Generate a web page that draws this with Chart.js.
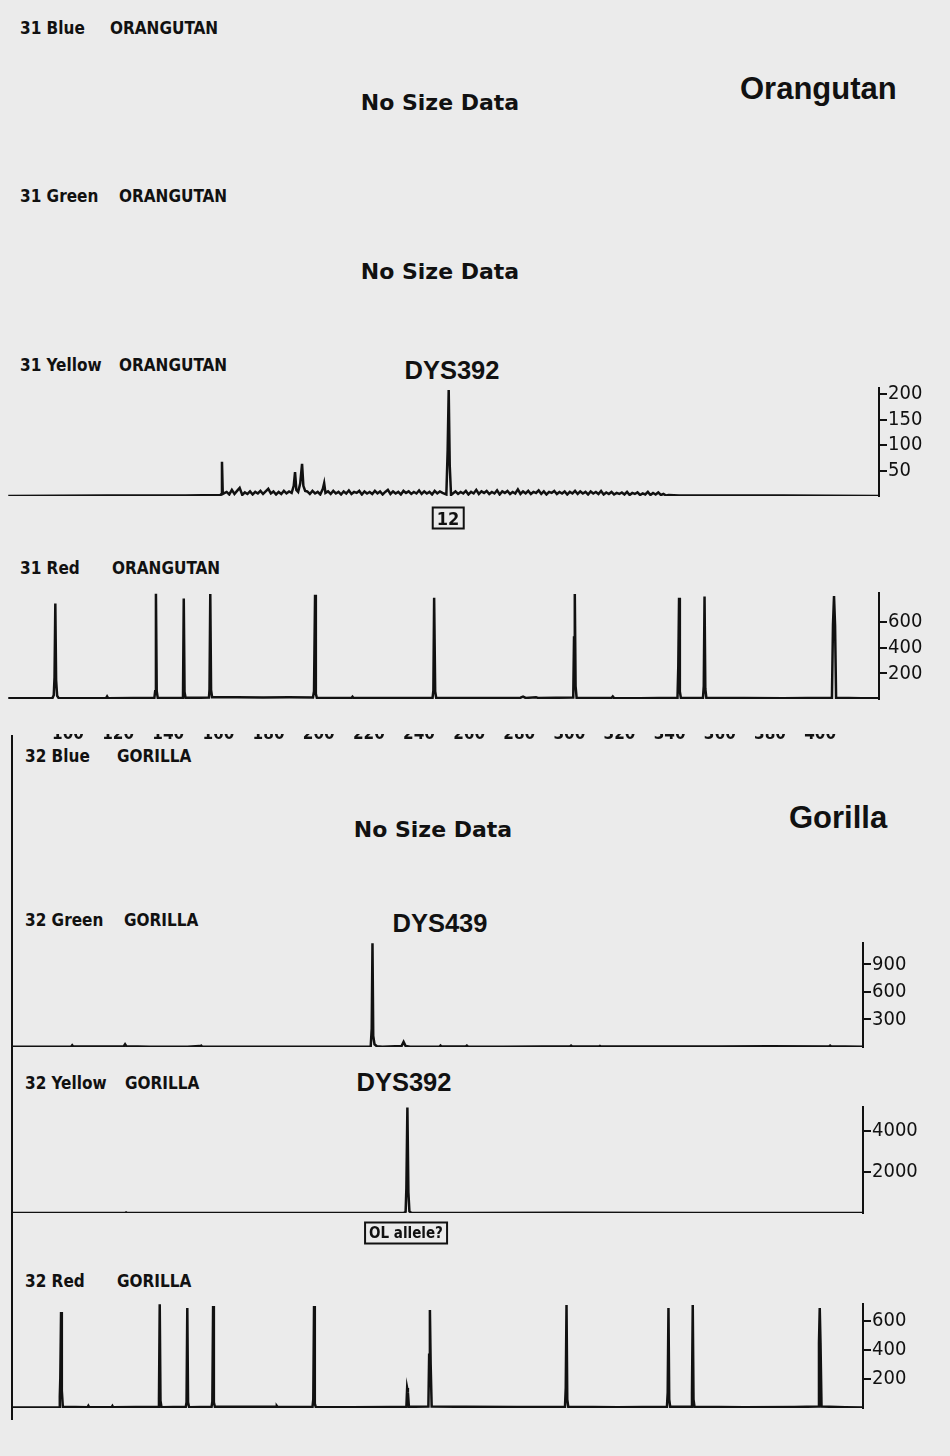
<!DOCTYPE html>
<html>
<head>
<meta charset="utf-8">
<script src="https://cdn.jsdelivr.net/npm/chart.js@4/dist/chart.umd.min.js"></script>
<style>
  html, body { margin: 0; padding: 0; }
  body { width: 950px; height: 1456px; background: #ebebeb; position: relative; overflow: hidden; }
  .box { position: absolute; left: 0; width: 950px; }
  .lbl { position: absolute; font-family: 'DejaVu Sans Condensed', 'DejaVu Sans', sans-serif; font-size: 17px; font-weight: bold; color: #111; transform: translateY(-50%); white-space: nowrap; }
  .nsd { position: absolute; font-family: 'DejaVu Sans', sans-serif; font-size: 22px; font-weight: bold; color: #111; transform: translate(-50%, -50%); white-space: nowrap; }
  .big { position: absolute; font-family: 'Liberation Sans', Arial, sans-serif; font-size: 31px; font-weight: bold; color: #111; transform: translateY(-50%); white-space: nowrap; }
  .locus { position: absolute; font-family: 'Liberation Sans', Arial, sans-serif; font-size: 25.5px; font-weight: bold; color: #111; transform: translate(-50%, -50%); white-space: nowrap; }
  .tag { position: absolute; border: 2px solid #111; font-family: 'DejaVu Sans Condensed', 'DejaVu Sans', sans-serif; font-weight: bold; color: #111; transform: translate(-50%, -50%); white-space: nowrap; padding: 0 3px; line-height: 19px; }
  #strip { position: absolute; left: 0; top: 734px; width: 950px; height: 8px; overflow: hidden; }
  #stripIn { position: absolute; left: 0; top: -25px; width: 950px; height: 30px; }
  #frame { position: absolute; left: 11px; top: 735px; width: 2px; height: 685px; background: #111; }
</style>
</head>
<body>

<!-- 31 Orangutan -->
<div class="lbl" style="left:20px;top:28px">31 Blue</div><div class="lbl" style="left:110px;top:28px">ORANGUTAN</div>
<div class="nsd" style="left:440px;top:102px">No Size Data</div>
<div class="big" style="left:740px;top:89px">Orangutan</div>

<div class="lbl" style="left:20px;top:196px">31 Green</div><div class="lbl" style="left:119px;top:196px">ORANGUTAN</div>
<div class="nsd" style="left:440px;top:271px">No Size Data</div>

<div class="lbl" style="left:20px;top:365px">31 Yellow</div><div class="lbl" style="left:119px;top:365px">ORANGUTAN</div>
<div class="locus" style="left:452px;top:370px">DYS392</div>
<div class="box" style="top:374px;height:136px"><canvas id="oYellow"></canvas></div>
<div class="tag" style="left:448px;top:518px;font-size:18px">12</div>

<div class="lbl" style="left:20px;top:568px">31 Red</div><div class="lbl" style="left:112px;top:568px">ORANGUTAN</div>
<div class="box" style="top:579px;height:134px"><canvas id="oRed"></canvas></div>

<div id="strip"><div id="stripIn"><canvas id="sizeAxis"></canvas></div></div>

<!-- 32 Gorilla -->
<div id="frame"></div>
<div class="lbl" style="left:25px;top:756px">32 Blue</div><div class="lbl" style="left:117px;top:756px">GORILLA</div>
<div class="nsd" style="left:433px;top:829px">No Size Data</div>
<div class="big" style="left:789px;top:818px">Gorilla</div>

<div class="lbl" style="left:25px;top:920px">32 Green</div><div class="lbl" style="left:124px;top:920px">GORILLA</div>
<div class="locus" style="left:440px;top:923px">DYS439</div>
<div class="box" style="top:929px;height:132px"><canvas id="gGreen"></canvas></div>

<div class="lbl" style="left:25px;top:1083px">32 Yellow</div><div class="lbl" style="left:125px;top:1083px">GORILLA</div>
<div class="locus" style="left:404px;top:1082px">DYS392</div>
<div class="box" style="top:1093px;height:134px"><canvas id="gYellow"></canvas></div>
<div class="tag" style="left:406px;top:1233px;font-size:15px">OL allele?</div>

<div class="lbl" style="left:25px;top:1281px">32 Red</div><div class="lbl" style="left:117px;top:1281px">GORILLA</div>
<div class="box" style="top:1290px;height:132px"><canvas id="gRed"></canvas></div>

<script>
// fragment size (bp) vs fluorescence
const oYellowTrace = [[82,0],[120,1],[150,1],[163.6,2],[164,4],[164.2,67],[164.5,4],[166,8],[167,3],[168,12],[169,4],[170,10],[171,16],[172,2],[173,7],[174,4],[175,9],[176,3],[177,8],[178,5],[179,10],[180,4],[181,9],[182,14],[183,5],[184,9],[185,3],[186,8],[187,4],[188,10],[189,5],[190,9],[191,6],[191.8,20],[192.3,47],[192.8,12],[193.5,8],[194.3,25],[195,63],[195.5,20],[196.2,10],[197,9],[198,4],[199,10],[200,5],[201,8],[202,3],[203,14],[203.5,25],[204,6],[205,9],[206,4],[207,10],[208,5],[209,8],[210,3],[211,9],[212,5],[213,11],[214,4],[215,8],[216,6],[217,10],[218,3],[219,9],[220,5],[221,8],[222,4],[223,10],[224,5],[225,9],[226,3],[227,8],[228,12],[229,4],[230,9],[231,5],[232,8],[233,3],[234,10],[235,6],[236,9],[237,4],[238,8],[239,5],[240,11],[241,4],[242,9],[243,5],[244,8],[245,3],[246,10],[247,5],[248,9],[249,6],[250.5,3],[251,90],[251.4,208],[251.8,60],[252.3,2],[253,5],[254,9],[255,4],[256,8],[257,5],[258,10],[259,3],[260,8],[261,5],[262,12],[263,4],[264,9],[265,6],[266,10],[267,4],[268,8],[269,5],[270,11],[271,3],[272,9],[273,6],[274,10],[275,4],[276,8],[277,5],[278,13],[279,4],[280,9],[281,5],[282,10],[283,4],[284,8],[285,6],[286,11],[287,4],[288,9],[289,3],[290,8],[291,6],[292,10],[293,4],[294,8],[295,5],[296,9],[297,3],[298,8],[299,5],[300,10],[301,4],[302,9],[303,5],[304,8],[305,3],[306,9],[307,5],[308,8],[309,4],[310,10],[311,3],[312,7],[313,4],[314,8],[315,3],[316,6],[317,4],[318,7],[319,3],[320,8],[321,2],[322,6],[323,4],[324,7],[325,2],[326,5],[327,3],[328,8],[329,2],[330,6],[331,3],[332,7],[333,2],[334,4],[335,1],[336,2],[340,1],[380,1],[417,0]];
const oRedTrace = [[82,6],[90,5],[99,7],[99.5,30],[99.8,170],[100.1,746],[100.4,150],[100.8,25],[101.4,7],[110,6],[119.6,7],[120,20],[120.4,6],[130,8],[138.2,9],[138.5,60],[138.8,822],[139.1,60],[139.5,9],[144,8],[149.2,10],[149.5,785],[149.8,55],[150.2,9],[155,9],[159.2,12],[159.4,75],[159.7,820],[160,70],[160.4,14],[170,14],[180,12],[190,13],[199.2,12],[199.6,60],[200,815],[200.3,40],[200.7,8],[214,8],[214.4,18],[214.8,8],[230,8],[245.2,10],[245.5,65],[245.8,790],[246.2,60],[246.6,8],[262,7],[279,10],[280,18],[281,8],[285,14],[286,7],[299.3,12],[299.6,480],[299.9,820],[300.2,100],[300.6,8],[314,8],[314.5,20],[315,7],[325,6],[339.4,10],[339.7,250],[340,790],[340.3,60],[340.7,8],[349.2,10],[349.5,100],[349.8,800],[350.1,80],[350.5,8],[365,7],[380,6],[398.8,10],[399.2,577],[399.6,805],[400,577],[400.4,10],[410,6],[417,6]];
const gGreenTrace = [[81,3],[95,4],[104,6],[104.4,20],[104.8,6],[115,5],[124.8,8],[125.3,30],[125.8,8],[135,4],[150,4],[154.6,12],[155,5],[155.4,14],[155.8,4],[170,3],[190,4],[210,3],[222.4,5],[222.8,200],[223.1,1130],[223.4,120],[223.9,30],[224.8,8],[227,4],[234.6,10],[235.4,55],[236.2,10],[238,4],[249.6,5],[250,16],[250.4,5],[260,5],[260.4,15],[260.8,5],[275,4],[290,5],[301.2,5],[301.6,15],[302,5],[312.6,5],[313,12],[313.4,5],[330,6],[360,5],[380,7],[403.6,6],[404,15],[404.4,6],[410,5],[417,3]];
const gYellowTrace = [[81,5],[110,6],[125.4,6],[125.7,25],[126,6],[160,5],[200,6],[230,6],[235.6,8],[236.2,60],[236.5,1200],[236.9,5150],[237.3,1000],[237.7,80],[238.4,10],[260,6],[300,7],[350,6],[417,4]];
const gRedTrace = [[81,4],[99.2,6],[99.5,80],[99.7,207],[100,662],[100.3,120],[100.7,8],[110.5,6],[110.8,15],[111.1,6],[120,6],[120.3,14],[120.6,5],[138.4,8],[138.7,60],[139,715],[139.3,50],[139.7,6],[149.3,8],[149.6,40],[149.9,690],[150.2,40],[150.6,6],[159.5,8],[159.8,45],[160.1,703],[160.4,40],[160.8,8],[170,9],[185,8],[185.3,14],[185.6,7],[199.4,8],[199.7,60],[200,703],[200.3,30],[200.7,6],[215,6],[230,7],[236.5,8],[236.8,138],[237.1,110],[237.5,8],[245.2,10],[245.5,367],[245.8,676],[246.1,300],[246.5,10],[260,8],[280,7],[299.2,8],[299.5,140],[299.8,710],[300.1,60],[300.5,8],[320,6],[339.5,8],[339.8,107],[340.1,690],[340.4,60],[340.8,8],[349.1,8],[349.4,107],[349.7,710],[350,60],[350.4,8],[370,6],[390,7],[399.3,10],[399.6,450],[399.9,690],[400.2,450],[400.6,10],[410,6],[417,4]];

// y tick labels per panel
const oYellowTicks = [50, 100, 150, 200];
const oRedTicks = [200, 400, 600];
const gGreenTicks = [300, 600, 900];
const gYellowTicks = [2000, 4000];
const gRedTicks = [200, 400, 600];
// size axis labels (bp)
const sizeTicks = [100, 120, 140, 160, 180, 200, 220, 240, 260, 280, 300, 320, 340, 360, 380, 400];

const INK = '#111';
const tickFont = { family: "'DejaVu Sans Condensed', 'DejaVu Sans', sans-serif", size: 20 };

function makeTrace(id, trace, ticks, yMax, xMin, xMax, padLeft, axisWidth) {
    new Chart(document.getElementById(id), {
        type: 'line',
        data: {
            datasets: [{
                data: trace.map(p => ({ x: p[0], y: p[1] })),
                borderColor: INK,
                borderWidth: 2.5,
                pointRadius: 0,
                tension: 0
            }]
        },
        options: {
            responsive: true,
            maintainAspectRatio: false,
            animation: false,
            events: [],
            layout: { padding: { left: padLeft, right: 0, top: 14, bottom: 14 } },
            plugins: { legend: { display: false }, tooltip: { enabled: false } },
            scales: {
                x: { type: 'linear', min: xMin, max: xMax, display: false },
                y: {
                    position: 'right',
                    min: 0,
                    max: yMax,
                    afterBuildTicks: s => { s.ticks = ticks.map(v => ({ value: v })); },
                    afterFit: s => { s.width = axisWidth; },
                    border: { display: true, color: INK, width: 2 },
                    grid: { drawOnChartArea: false, drawTicks: true, tickLength: 8, color: INK, lineWidth: 2 },
                    ticks: { color: INK, font: tickFont, padding: 1, callback: v => String(v) }
                }
            }
        }
    });
}

// orangutan panels: plot 8..879 px
makeTrace('oYellow', oYellowTrace, oYellowTicks, 212, 81.9, 416.9, 8, 71);
makeTrace('oRed', oRedTrace, oRedTicks, 828, 81.9, 416.9, 8, 71);
// gorilla panels: plot 13..863 px
makeTrace('gGreen', gGreenTrace, gGreenTicks, 1134, 81, 417, 13, 87);
makeTrace('gYellow', gYellowTrace, gYellowTicks, 5170, 81, 417, 13, 87);
makeTrace('gRed', gRedTrace, gRedTicks, 717, 81, 417, 13, 87);

// cut-off size axis under the orangutan red panel
new Chart(document.getElementById('sizeAxis'), {
    type: 'line',
    data: { datasets: [{ data: [] }] },
    options: {
        responsive: true,
        maintainAspectRatio: false,
        animation: false,
        events: [],
        layout: { padding: { left: 8, right: 71, top: 0, bottom: 0 } },
        plugins: { legend: { display: false }, tooltip: { enabled: false } },
        scales: {
            x: {
                type: 'linear', min: 76.06, max: 423.5,
                afterBuildTicks: s => { s.ticks = sizeTicks.map(v => ({ value: v })); },
                grid: { display: false, drawTicks: false },
                border: { display: false },
                ticks: { color: INK, font: { family: tickFont.family, size: 17, weight: 'bold' }, padding: 0, autoSkip: false, maxRotation: 0 }
            },
            y: { display: false }
        }
    }
});
</script>
</body>
</html>
